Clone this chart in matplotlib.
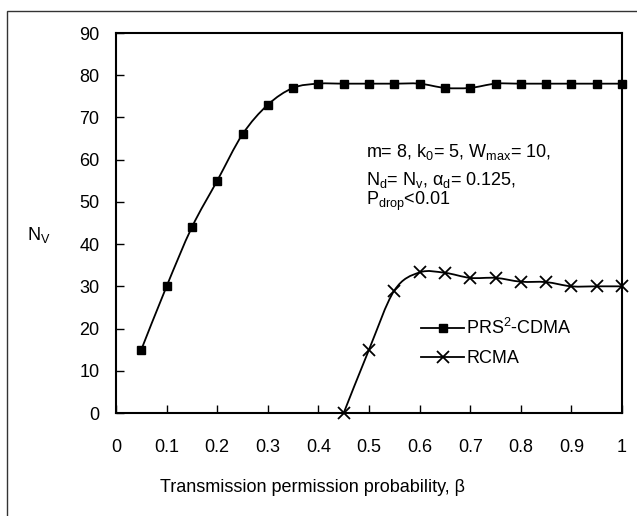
import matplotlib.pyplot as plt
import numpy as np
from matplotlib.path import Path
from matplotlib.patches import PathPatch, Rectangle

plt.rcParams['font.family'] = ['Liberation Sans', 'DejaVu Sans']

beta = [0.05, 0.1, 0.15, 0.2, 0.25, 0.3, 0.35, 0.4, 0.45, 0.5,
        0.55, 0.6, 0.65, 0.7, 0.75, 0.8, 0.85, 0.9, 0.95, 1.0]
prs_cdma = [15, 30, 44, 55, 66, 73, 77, 78, 78, 78,
            78, 78, 77, 77, 78, 78, 78, 78, 78, 78]

beta_rcma = [0.45, 0.5, 0.55, 0.6, 0.65, 0.7, 0.75, 0.8, 0.85, 0.9, 0.95, 1.0]
rcma = [0, 15, 29, 33.3, 33.2, 32, 32, 31.1, 31, 30, 30, 30]

x_ticks = [0, 0.1, 0.2, 0.3, 0.4, 0.5, 0.6, 0.7, 0.8, 0.9, 1]
x_tick_labels = ['0', '0.1', '0.2', '0.3', '0.4', '0.5', '0.6', '0.7', '0.8', '0.9', '1']
y_ticks = [0, 10, 20, 30, 40, 50, 60, 70, 80, 90]

W, H = 637, 516
FS = 13


def smooth_path(x, y):
    # Excel-style smoothed line: cubic bezier segments through the points
    p = np.column_stack([x, y]).astype(float)
    n = len(p)
    verts = [p[0]]
    codes = [Path.MOVETO]
    for i in range(n - 1):
        p0 = p[i - 1] if i > 0 else p[i]
        p1 = p[i]
        p2 = p[i + 1]
        p3 = p[i + 2] if i + 2 < n else p[i + 1]
        c1 = p1 + (p2 - p0) / 6.0
        c2 = p2 - (p3 - p1) / 6.0
        verts += [c1, c2, p2]
        codes += [Path.CURVE4] * 3
    return Path(verts, codes)


fig = plt.figure(figsize=(W / 100, H / 100), dpi=100)
ax = fig.add_axes([116 / W, 1 - 413 / H, 506 / W, 380 / H])

# outer chart frame
fig.patches.append(Rectangle((7 / W, -0.1), 1.2, 1 - 11 / H + 0.1,
                             transform=fig.transFigure, fill=False,
                             edgecolor='#333333', linewidth=1.0))

ax.add_patch(PathPatch(smooth_path(beta, prs_cdma), fill=False,
                       edgecolor='black', linewidth=1.3))
ax.add_patch(PathPatch(smooth_path(beta_rcma, rcma), fill=False,
                       edgecolor='black', linewidth=1.3))
ax.plot(beta, prs_cdma, linestyle='none', marker='s', markersize=6,
        color='black', clip_on=False)
ax.plot(beta_rcma, rcma, linestyle='none', marker='x', markersize=8.5,
        markeredgewidth=1.3, color='black', clip_on=False)

# legend handles
h1, = ax.plot([], [], color='black', linewidth=1.3, marker='s', markersize=6)
h2, = ax.plot([], [], color='black', linewidth=1.3, marker='x', markersize=8.5,
              markeredgewidth=1.3)
fig.legend([h1, h2], ['PRS$^\\mathregular{2}$-CDMA', 'RCMA'], loc='upper left',
           bbox_to_anchor=(421 / W, 1 - 318 / H), frameon=False, fontsize=FS,
           handlelength=2.4, handletextpad=0.1, labelspacing=0.65,
           borderpad=0, borderaxespad=0)

ax.set_xlim(0, 1)
ax.set_ylim(0, 90)
ax.set_xticks(x_ticks)
ax.set_xticklabels(x_tick_labels)
ax.set_yticks(y_ticks)
ax.tick_params(direction='in', length=6, width=1, labelsize=FS, pad=12)
ax.tick_params(axis='x', pad=19)
for s in ax.spines.values():
    s.set_linewidth(1.5)

ax.set_xlabel('Transmission permission probability, β', fontsize=FS, va='center')
ax.xaxis.set_label_coords((313 - 116) / 506, (413 - 488) / 380)
ax.set_ylabel('N$_\\mathregular{V}$', fontsize=FS, rotation=0,
              va='center', ha='center')
ax.yaxis.set_label_coords((39 - 116) / 506, (413 - 235) / 380)

notes = ['m= 8, k$_\\mathregular{0}$= 5, W$_\\mathregular{max}$= 10,',
         'N$_\\mathregular{d}$= N$_\\mathregular{v}$, α$_\\mathregular{d}$= 0.125,',
         'P$_\\mathregular{drop}$<0.01']
note_y = [157, 185, 205]
for txt, yy in zip(notes, note_y):
    fig.text(366 / W, 1 - yy / H, txt, fontsize=FS, va='baseline', ha='left')

fig.savefig('out.png', dpi=100)
